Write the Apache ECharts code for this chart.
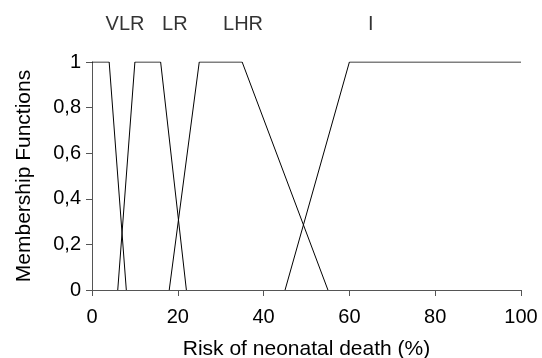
<!DOCTYPE html>
<html>
<head>
<meta charset="utf-8">
<script src="https://cdn.jsdelivr.net/npm/echarts@6/dist/echarts.min.js"></script>
<style>
  html, body { margin: 0; padding: 0; background: #fff; }
  #chart { width: 542px; height: 358px; }
</style>
</head>
<body>
<div id="chart"></div>
<script>
// membership functions: [risk %, membership]
const vlr = [[0, 1], [4, 1], [8, 0]];
const lr = [[6, 0], [10, 1], [16, 1], [22, 0]];
const lhr = [[18, 0], [25, 1], [35, 1], [55, 0]];
const inter = [[45, 0], [60, 1], [100, 1]];

// class names printed above the plot, and where they sit on the x scale
const classNames = ['VLR', 'LR', 'LHR', 'I'];
const classX = [7.7, 19.3, 35.2, 65];
const classY = 1.165;

const font = 'Liberation Sans, Arial, sans-serif';

function lineSeries(name, data) {
    return {
        name: name,
        type: 'line',
        data: data,
        symbol: 'none',
        lineStyle: { color: '#000', width: 1 },
        animation: false
    };
}

const chart = echarts.init(document.getElementById('chart'));
chart.setOption({
    animation: false,
    grid: { left: 92, right: 21, top: 62, bottom: 68, outerBoundsMode: 'none' },
    xAxis: {
        type: 'value',
        min: 0,
        max: 100,
        interval: 20,
        name: 'Risk of neonatal death (%)',
        nameLocation: 'middle',
        nameGap: 49,
        nameTextStyle: { fontFamily: font, fontSize: 21, color: '#000' },
        axisLine: { lineStyle: { color: '#555' } },
        axisTick: { lineStyle: { color: '#555' }, length: 6 },
        axisLabel: { fontFamily: font, fontSize: 20, color: '#000', margin: 17 },
        splitLine: { show: false }
    },
    yAxis: {
        type: 'value',
        min: 0,
        max: 1,
        interval: 0.2,
        name: 'Membership Functions',
        nameLocation: 'middle',
        nameGap: 57,
        nameTextStyle: { fontFamily: font, fontSize: 21, color: '#000' },
        axisLine: { show: true, lineStyle: { color: '#555' } },
        axisTick: { show: true, lineStyle: { color: '#555' }, length: 6 },
        axisLabel: {
            fontFamily: font, fontSize: 20, color: '#000', margin: 11,
            formatter: v => String(Math.round(v * 10) / 10).replace('.', ',')
        },
        splitLine: { show: false }
    },
    series: [
        lineSeries('VLR', vlr),
        lineSeries('LR', lr),
        lineSeries('LHR', lhr),
        lineSeries('I', inter),
        {
            type: 'scatter',
            clip: false,
            symbolSize: 0,
            data: classNames.map((n, i) => ({ value: [classX[i], classY], name: n })),
            label: {
                show: true,
                position: 'inside',
                formatter: p => p.name,
                fontFamily: font,
                fontSize: 20,
                color: '#000'
            }
        }
    ]
});
</script>
</body>
</html>
